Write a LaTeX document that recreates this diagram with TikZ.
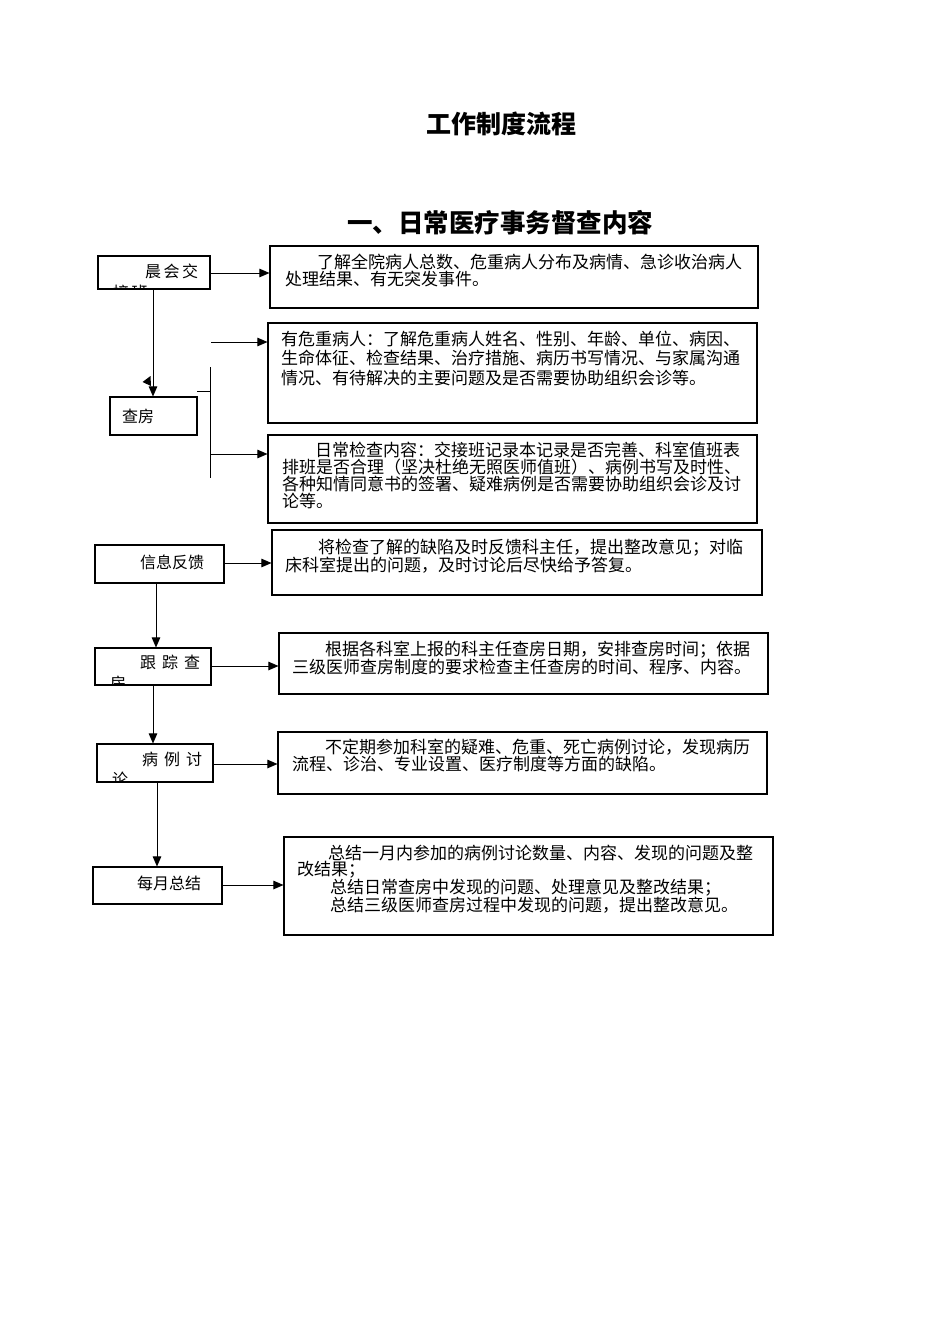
\documentclass[tikz,border=0pt]{standalone}
\usepackage{fontspec}
\setmainfont{Noto Sans CJK SC}
\usetikzlibrary{arrows.meta}
\tikzset{
  box/.style={draw, line width=1.1pt, inner sep=0pt},
  txt/.style={anchor=north west, align=left, inner sep=0pt, font=\fontsize{17}{17}\selectfont},
  lbl/.style={anchor=west, inner sep=0pt, font=\fontsize{16}{16}\selectfont},
  cut/.style={anchor=north west, align=left, inner sep=0pt, font=\fontsize{16}{21}\selectfont},
  arr/.style={line width=0.9pt, -{Triangle[length=10pt,width=8.5pt]}},
  ln/.style={line width=0.9pt},
  ttl/.style={inner sep=0pt, font=\fontsize{25}{25}\selectfont\bfseries}
}
\newcommand\mybox[5]{\node[box, minimum width={#4-#2}, minimum height={#5-#3}] (#1) at ({(#2+#4)/2},{(#3+#5)/2}) {};}
\begin{document}
\begin{tikzpicture}[x=1pt,y=-1pt]
\useasboundingbox[fill=white] (0,0) rectangle (950,1344);
% titles
\node[ttl] (t1) at (501,124) {工作制度流程};
\node[ttl,font=\fontsize{25.5}{25.5}\selectfont\bfseries] (t2) at (500,223) {一、日常医疗事务督查内容};
% right boxes
\mybox{ba}{270}{246}{758}{308}
\mybox{bb}{268}{323}{757}{423}
\mybox{bc}{268}{435}{757}{523}
\mybox{bd}{272}{530}{762}{595}
\mybox{be}{279}{633}{768}{694}
\mybox{bf}{278}{732}{767}{794}
\mybox{bg}{284}{837}{773}{935}
% right texts
\node[txt] (xa) at (285,253.5) {\hspace*{32pt}了解全院病人总数、危重病人分布及病情、急诊收治病人\\处理结果、有无突发事件。};
\node[txt,font=\fontsize{17}{19.5}\selectfont] (xb) at (281,330.5) {有危重病人：了解危重病人姓名、性别、年龄、单位、病因、\\生命体征、检查结果、治疗措施、病历书写情况、与家属沟通\\情况、有待解决的主要问题及是否需要协助组织会诊等。};
\node[txt] (xc) at (282,441.5) {\hspace*{33pt}日常检查内容：交接班记录本记录是否完善、科室值班表\\排班是否合理（坚决杜绝无照医师值班）、病例书写及时性、\\各种知情同意书的签署、疑难病例是否需要协助组织会诊及讨\\论等。};
\node[txt] (xd) at (285,538.5) {\hspace*{33pt}将检查了解的缺陷及时反馈科主任，提出整改意见；对临\\床科室提出的问题，及时讨论后尽快给予答复。};
\node[txt] (xe) at (292,640.5) {\hspace*{33pt}根据各科室上报的科主任查房日期，安排查房时间；依据\\三级医师查房制度的要求检查主任查房的时间、程序、内容。};
\node[txt] (xf) at (292,738.5) {\hspace*{33pt}不定期参加科室的疑难、危重、死亡病例讨论，发现病历\\流程、诊治、专业设置、医疗制度等方面的缺陷。};
\node[txt,font=\fontsize{17}{16.5}\selectfont] (xg) at (297,844.5) {\hspace*{31pt}总结一月内参加的病例讨论数量、内容、发现的问题及整\\改结果；\\\hspace*{33pt}总结日常查房中发现的问题、处理意见及整改结果；\\\hspace*{33pt}总结三级医师查房过程中发现的问题，提出整改意见。};
% left boxes
\mybox{m1}{98}{256}{210}{289}
\mybox{cf}{110}{397}{197}{435}
\mybox{xx}{95}{545}{224}{583}
\mybox{gz}{95}{648}{211}{685}
\mybox{bl}{97}{744}{213}{782}
\mybox{my}{93}{867}{222}{904}
% left labels
\begin{scope}
\clip (m1.north west) rectangle (m1.south east);
\node[cut] (l1) at (113,264) {\hspace*{32pt}晨\hspace{2.5pt}会\hspace{2.5pt}交\\接\hspace{2.5pt}班};
\end{scope}
\node[lbl] (l2) at (122,416) {查房};
\node[lbl] (l3) at (140,562) {信息反馈};
\begin{scope}
\clip (gz.north west) rectangle (gz.south east);
\node[cut] (l4) at (110,655) {\hspace*{30pt}跟\hspace{6pt}踪\hspace{6pt}查\\房};
\end{scope}
\begin{scope}
\clip (bl.north west) rectangle (bl.south east);
\node[cut,font=\fontsize{16}{20}\selectfont] (l5) at (112,752) {\hspace*{30pt}病\hspace{6pt}例\hspace{6pt}讨\\论};
\end{scope}
\node[lbl] (l6) at (137,883) {每月总结};
% horizontal arrows
\draw[arr] (m1.east |- 0,273) -- (ba.west |- 0,273);
\draw[arr] (xx.east |- 0,563) -- (bd.west |- 0,563);
\draw[arr] (gz.east |- 0,666) -- (be.west |- 0,666);
\draw[arr] (bl.east |- 0,764) -- (bf.west |- 0,764);
\draw[arr] (my.east |- 0,885) -- (bg.west |- 0,885);
% vertical arrows
\draw[arr] (153,0 |- m1.south) -- (153,0 |- cf.north);
\draw[arr] (156,0 |- xx.south) -- (156,0 |- gz.north);
\draw[arr] (153,0 |- gz.south) -- (153,0 |- bl.north);
\draw[arr] (157,0 |- bl.south) -- (157,0 |- my.north);
% bracket for 查房
\coordinate (k0) at (197,391);
\coordinate (k1) at (210,391);
\coordinate (kt) at (210,367);
\coordinate (kb) at (210,478);
\coordinate (ka) at (211,342);
\coordinate (kc) at (210,454);
\draw[ln] (k0) -- (k1);
\draw[ln] (kt) -- (kb);
\draw[arr] (ka) -- (ka -| bb.west);
\draw[arr] (kc) -- (kc -| bc.west);
% stray arrowhead
\fill (150.5,376) -- (142.5,382) -- (151,386) -- cycle;
\end{tikzpicture}
\end{document}
